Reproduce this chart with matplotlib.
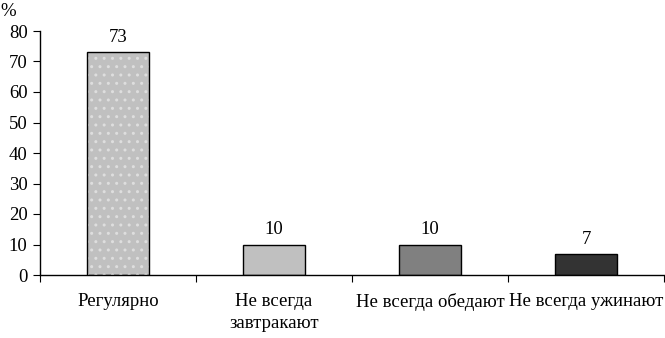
import numpy as np
import matplotlib.pyplot as plt

categories = ["Регулярно", "Не всегда\nзавтракают", "Не всегда обедают", "Не всегда ужинают"]
values = [73, 10, 10, 7]
colors = ["#c0c0c0", "#c0c0c0", "#808080", "#333333"]
y_ticks = [0, 10, 20, 30, 40, 50, 60, 70, 80]

plt.rcParams['font.family'] = ['Liberation Serif', 'DejaVu Serif']
plt.rcParams['font.size'] = 13.5

fig = plt.figure(figsize=(6.65, 3.38), dpi=100)
ax = fig.add_axes([40 / 665, 1 - 275 / 338, 624 / 665, 244 / 338])

x = np.arange(len(categories))
w = 0.4
# first bar gets a dotted fill, drawn as a hatch layer under the outline
ax.bar(x, values, w, color=colors, edgecolor="none", zorder=2)
ax.bar(x[:1], values[:1], w, color="none", edgecolor="#dedede", hatch="..", linewidth=0, zorder=3)
ax.bar(x, values, w, color="none", edgecolor="black", linewidth=1, zorder=4)

for xi, v in zip(x, values):
    ax.text(xi, v + 2, str(v), ha="center", va="bottom")

ax.set_xlim(-0.5, len(categories) - 0.5)
ax.set_ylim(0, 80)
ax.set_yticks(y_ticks)
ax.set_xticks(np.arange(len(categories) + 1) - 0.5)
ax.set_xticklabels([])
ax.set_xticks(x, minor=True)
ax.set_xticklabels(categories, minor=True, linespacing=1.35)
ax.tick_params(axis="x", which="minor", length=0, pad=13)
ax.tick_params(axis="x", which="major", length=5, direction="out")
ax.tick_params(axis="y", length=5, direction="out", pad=4)
for s in ["top", "right"]:
    ax.spines[s].set_visible(False)
ax.spines["left"].set_linewidth(1)
ax.spines["bottom"].set_linewidth(1)

fig.text(0, 1 - 11 / 338, "%", ha="left", va="center")

fig.savefig("out.png", dpi=100)
